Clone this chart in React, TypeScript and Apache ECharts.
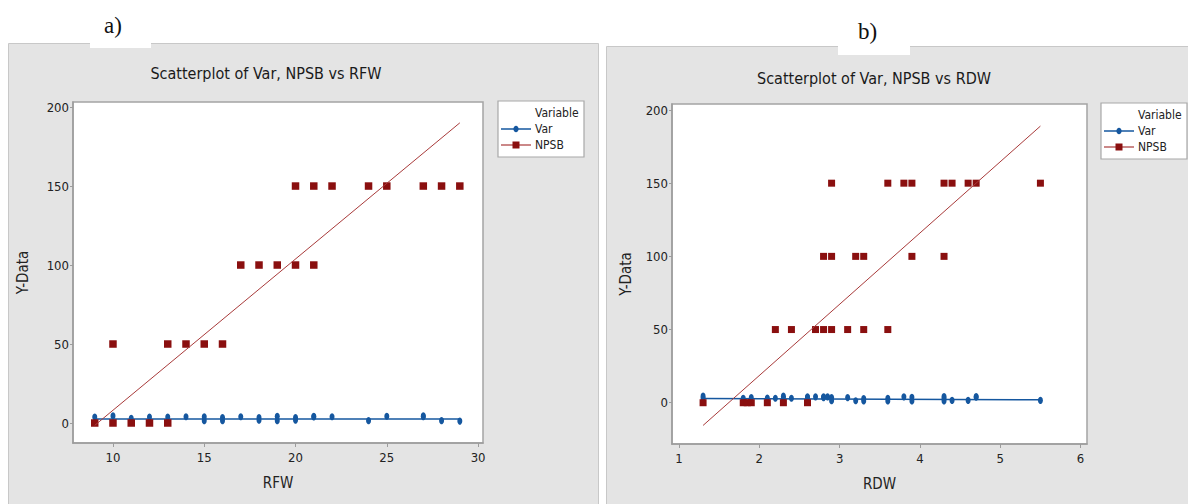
import React, { useEffect, useRef } from "react";
import * as echarts from "echarts";

// RFW panel (a)
const rfwVarX = [9, 10, 11, 12, 13, 14, 15, 15, 16, 16, 17, 18, 18, 19, 19, 20, 20, 21, 21, 22, 24, 25, 27, 27, 28, 29];
const rfwVarY = [3.8, 4.5, 3.0, 3.8, 3.8, 4.0, 4.0, 1.5, 3.5, 1.5, 4.0, 3.5, 1.8, 4.3, 1.5, 3.5, 1.8, 4.3, 3.8, 4.0, 1.5, 4.3, 4.5, 4.0, 1.5, 1.2];
const rfwNpsbX = [9, 10, 11, 12, 13, 10, 13, 14, 15, 16, 17, 18, 19, 20, 21, 20, 21, 22, 24, 25, 27, 28, 29];
const rfwNpsbY = [0, 0, 0, 0, 0, 50, 50, 50, 50, 50, 100, 100, 100, 100, 100, 150, 150, 150, 150, 150, 150, 150, 150];
const rfwFitX = [9, 29];
const rfwVarFitY = [2.6, 2.5];
const rfwNpsbFitY = [-1.5, 190];
const rfwTicks = [10, 15, 20, 25, 30];

// RDW panel (b)
const rdwVarX = [1.3, 1.3, 1.8, 1.9, 2.1, 2.2, 2.3, 2.3, 2.4, 2.6, 2.6, 2.7, 2.8, 2.8, 2.85, 2.9, 2.9, 3.1, 3.2, 3.3, 3.3, 3.6, 3.6, 3.8, 3.9, 3.9, 4.3, 4.3, 4.3, 4.4, 4.6, 4.7, 4.7, 5.5];
const rdwVarY = [4.5, 3.0, 3.0, 3.5, 3.2, 3.0, 4.5, 3.3, 3.0, 4.0, 3.5, 4.0, 4.0, 3.5, 4.0, 3.5, 1.3, 3.5, 1.3, 2.8, 1.2, 3.0, 1.2, 4.0, 3.8, 1.2, 4.2, 2.8, 1.2, 1.6, 1.6, 4.3, 3.8, 1.6];
const rdwNpsbX = [1.3, 1.8, 1.85, 1.9, 2.1, 2.3, 2.6, 2.2, 2.4, 2.7, 2.8, 2.9, 3.1, 3.3, 3.6, 2.8, 2.9, 3.2, 3.3, 3.9, 4.3, 2.9, 3.6, 3.8, 3.9, 4.3, 4.4, 4.6, 4.7, 5.5];
const rdwNpsbY = [0, 0, 0, 0, 0, 0, 0, 50, 50, 50, 50, 50, 50, 50, 50, 100, 100, 100, 100, 100, 100, 150, 150, 150, 150, 150, 150, 150, 150, 150];
const rdwFitX = [1.3, 5.5];
const rdwVarFitY = [2.9, 2.0];
const rdwNpsbFitY = [-15.5, 189];
const rdwTicks = [1, 2, 3, 4, 5, 6];
const yTicks = [0, 50, 100, 150, 200];

const NARROW = "'Liberation Sans Narrow', 'DejaVu Sans Condensed', 'Liberation Sans', sans-serif";
const SERIF = "'Liberation Serif', 'DejaVu Serif', serif";
const BLUE = "#15579f";
const RED = "#8a0f0f";
const RED_LINE = "#a83a3a";

const zip = (xs: number[], ys: number[]) => xs.map((x, i) => [x, ys[i]]);

function xAxisCfg(grid: number, name: string, min: number, max: number, ticks: number[]) {
  return {
    gridIndex: grid,
    type: "value",
    min,
    max,
    name,
    nameLocation: "middle",
    nameGap: 32,
    nameTextStyle: { fontFamily: NARROW, fontSize: 15, color: "#222" },
    axisLine: { show: true, onZero: false, lineStyle: { color: "#9c9c9c", width: 1.5 } },
    axisTick: { show: true, length: 4, customValues: ticks, lineStyle: { color: "#9c9c9c" } },
    axisLabel: { customValues: ticks, fontFamily: NARROW, fontSize: 13, color: "#222", margin: 8 },
    splitLine: { show: false },
  };
}

function yAxisCfg(grid: number, min: number, max: number, gap: number) {
  return {
    gridIndex: grid,
    type: "value",
    min,
    max,
    name: "Y-Data",
    nameLocation: "middle",
    nameGap: gap,
    nameTextStyle: { fontFamily: NARROW, fontSize: 15, color: "#222" },
    axisLine: { show: true, onZero: false, lineStyle: { color: "#9c9c9c", width: 1.5 } },
    axisTick: { show: true, length: 3, customValues: yTicks, lineStyle: { color: "#9c9c9c" } },
    axisLabel: { customValues: yTicks, fontFamily: NARROW, fontSize: 13, color: "#222", margin: 4 },
    splitLine: { show: false },
  };
}

function legendBox(x: number, y: number) {
  return {
    type: "group",
    x,
    y,
    z: 20,
    children: [
      { type: "rect", shape: { x: 0, y: 0, width: 86, height: 56 }, style: { fill: "#fff", stroke: "#a8a8a8", lineWidth: 1.2 } },
      { type: "text", x: 37, y: 12, style: { text: "Variable", font: `12px ${NARROW}`, fill: "#222", textVerticalAlign: "middle" } },
      { type: "line", shape: { x1: 3, y1: 28, x2: 33, y2: 28 }, style: { stroke: BLUE, lineWidth: 1.5 } },
      { type: "ellipse", shape: { cx: 18, cy: 28, rx: 2.6, ry: 3.2 }, style: { fill: BLUE } },
      { type: "text", x: 37, y: 28, style: { text: "Var", font: `12px ${NARROW}`, fill: "#222", textVerticalAlign: "middle" } },
      { type: "line", shape: { x1: 3, y1: 44, x2: 33, y2: 44 }, style: { stroke: RED_LINE, lineWidth: 1.2 } },
      { type: "rect", shape: { x: 14.5, y: 40.5, width: 7, height: 7 }, style: { fill: RED } },
      { type: "text", x: 37, y: 44, style: { text: "NPSB", font: `12px ${NARROW}`, fill: "#222", textVerticalAlign: "middle" } },
    ],
  };
}

export default function App() {
  const ref = useRef<HTMLDivElement>(null);

  useEffect(() => {
    if (!ref.current) return;
    const chart = echarts.init(ref.current, undefined, { renderer: "svg" });

    const option = {
      animation: false,
      backgroundColor: "#fff",
      grid: [
        { left: 73, top: 102, width: 410, height: 341, show: true, backgroundColor: "#fff", borderColor: "#a4a4a4", borderWidth: 1.5 },
        { left: 672, top: 104, width: 415, height: 340, show: true, backgroundColor: "#fff", borderColor: "#a4a4a4", borderWidth: 1.5 },
      ],
      xAxis: [
        xAxisCfg(0, "RFW", 7.81, 30.27, rfwTicks),
        xAxisCfg(1, "RDW", 0.913, 6.08, rdwTicks),
      ],
      yAxis: [
        yAxisCfg(0, -12.66, 203.2, 43),
        yAxisCfg(1, -28.2, 204.1, 39),
      ],
      graphic: [
        { type: "rect", z: -10, shape: { x: 8.5, y: 43.5, width: 590, height: 470 }, style: { fill: "#e4e4e4", stroke: "#c8c8c8", lineWidth: 1 } },
        { type: "rect", z: -10, shape: { x: 606.5, y: 46.5, width: 590, height: 470 }, style: { fill: "#e4e4e4", stroke: "#c8c8c8", lineWidth: 1 } },
        { type: "rect", z: -9, shape: { x: 90, y: 0, width: 61, height: 48 }, style: { fill: "#fff" } },
        { type: "rect", z: -9, shape: { x: 838, y: 0, width: 72, height: 55 }, style: { fill: "#fff" } },
        { type: "text", z: 20, x: 104, y: 25, style: { text: "a)", font: `23px ${SERIF}`, fill: "#111", textVerticalAlign: "middle" } },
        { type: "text", z: 20, x: 858, y: 31, style: { text: "b)", font: `23px ${SERIF}`, fill: "#111", textVerticalAlign: "middle" } },
        { type: "text", z: 20, x: 266, y: 73, style: { text: "Scatterplot of Var, NPSB vs RFW", font: `16px ${NARROW}`, fill: "#1a1a1a", textAlign: "center", textVerticalAlign: "middle" } },
        { type: "text", z: 20, x: 874, y: 78, style: { text: "Scatterplot of Var, NPSB vs RDW", font: `16px ${NARROW}`, fill: "#1a1a1a", textAlign: "center", textVerticalAlign: "middle" } },
        legendBox(498, 101),
        legendBox(1101, 103),
      ],
      series: [
        { name: "Var fit", type: "line", xAxisIndex: 0, yAxisIndex: 0, data: zip(rfwFitX, rfwVarFitY), showSymbol: false, lineStyle: { color: BLUE, width: 1.5 }, z: 2 },
        { name: "Var", type: "scatter", xAxisIndex: 0, yAxisIndex: 0, data: zip(rfwVarX, rfwVarY), symbol: "circle", symbolSize: [5, 7], itemStyle: { color: BLUE, opacity: 1 }, z: 3 },
        { name: "NPSB", type: "scatter", xAxisIndex: 0, yAxisIndex: 0, data: zip(rfwNpsbX, rfwNpsbY), symbol: "rect", symbolSize: 7.5, itemStyle: { color: RED, opacity: 1 }, z: 4 },
        { name: "NPSB fit", type: "line", xAxisIndex: 0, yAxisIndex: 0, data: zip(rfwFitX, rfwNpsbFitY), showSymbol: false, lineStyle: { color: RED_LINE, width: 1 }, z: 5 },

        { name: "Var fit", type: "line", xAxisIndex: 1, yAxisIndex: 1, data: zip(rdwFitX, rdwVarFitY), showSymbol: false, lineStyle: { color: BLUE, width: 1.5 }, z: 2 },
        { name: "Var", type: "scatter", xAxisIndex: 1, yAxisIndex: 1, data: zip(rdwVarX, rdwVarY), symbol: "circle", symbolSize: [5, 7], itemStyle: { color: BLUE, opacity: 1 }, z: 3 },
        { name: "NPSB", type: "scatter", xAxisIndex: 1, yAxisIndex: 1, data: zip(rdwNpsbX, rdwNpsbY), symbol: "rect", symbolSize: 7, itemStyle: { color: RED, opacity: 1 }, z: 4 },
        { name: "NPSB fit", type: "line", xAxisIndex: 1, yAxisIndex: 1, data: zip(rdwFitX, rdwNpsbFitY), showSymbol: false, lineStyle: { color: RED_LINE, width: 1 }, z: 5 },
      ],
    };

    chart.setOption(option as any);
    return () => chart.dispose();
  }, []);

  return (
    <div
      ref={ref}
      style={{ position: "fixed", left: 0, top: 0, width: 1188, height: 504 }}
    />
  );
}
